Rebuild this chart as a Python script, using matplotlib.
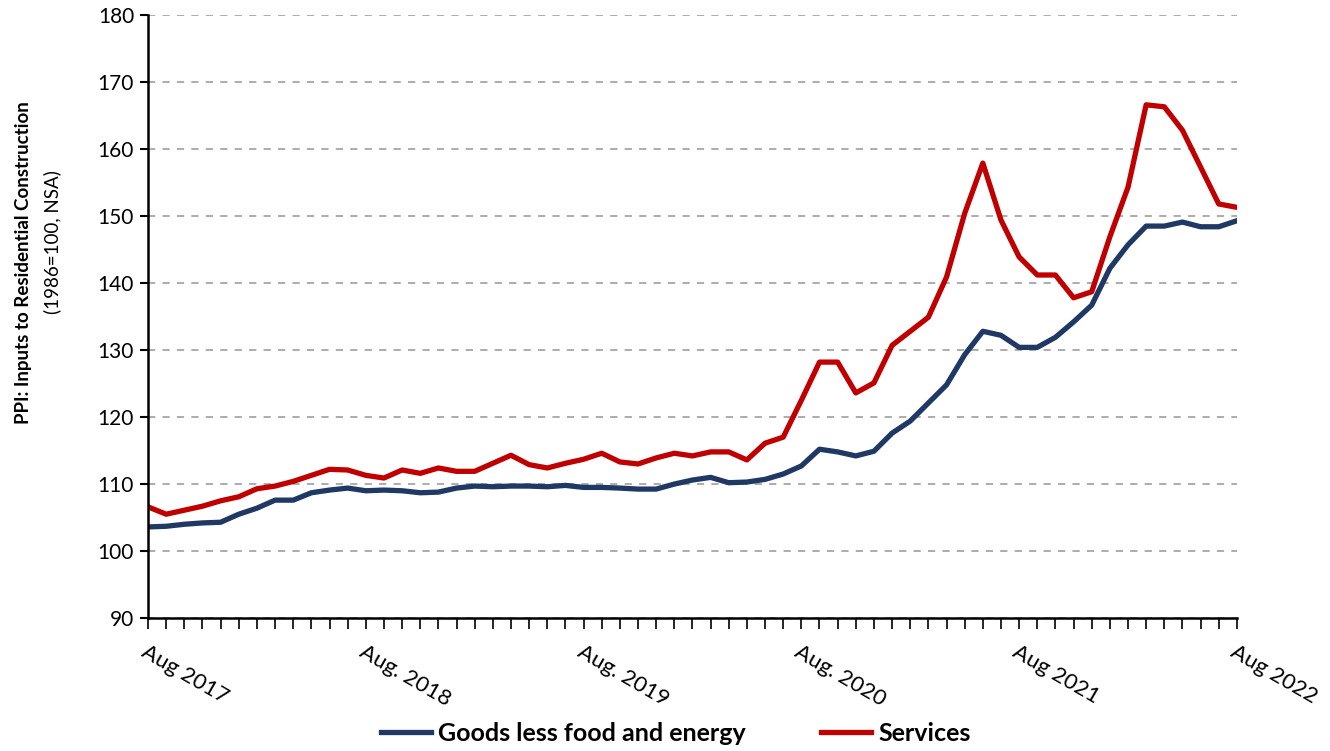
import numpy as np
import matplotlib
matplotlib.use("Agg")
import matplotlib.pyplot as plt
from matplotlib.ticker import MultipleLocator

plt.rcParams['font.family'] = ['Lato', 'DejaVu Sans']

# monthly index values, Aug 2017 .. Aug 2022
goods = [103.6, 103.7, 104.0, 104.2, 104.3, 105.5, 106.4, 107.6, 107.6, 108.7,
         109.1, 109.4, 109.0, 109.1, 109.0, 108.7, 108.8, 109.4, 109.7, 109.6,
         109.7, 109.7, 109.6, 109.8, 109.5, 109.5, 109.4, 109.25, 109.25, 110.0,
         110.6, 111.0, 110.2, 110.3, 110.7, 111.5, 112.7, 115.2, 114.8, 114.2,
         114.9, 117.6, 119.4, 122.1, 124.8, 129.3, 132.8, 132.2, 130.4, 130.4,
         131.9, 134.2, 136.7, 142.2, 145.7, 148.5, 148.5, 149.1, 148.4, 148.4,
         149.3]
services = [106.6, 105.5, 106.1, 106.7, 107.5, 108.1, 109.3, 109.7, 110.4, 111.3,
            112.2, 112.1, 111.3, 110.9, 112.1, 111.6, 112.4, 111.9, 111.9, 113.1,
            114.3, 112.9, 112.4, 113.1, 113.7, 114.6, 113.3, 113.0, 113.9, 114.6,
            114.2, 114.8, 114.8, 113.6, 116.1, 117.0, 122.5, 128.2, 128.2, 123.6,
            125.1, 130.7, 132.8, 134.9, 140.9, 150.4, 157.9, 149.4, 143.9, 141.2,
            141.2, 137.8, 138.7, 146.9, 154.3, 166.6, 166.3, 162.8, 157.3, 151.8,
            151.3]
tick_labels = ["Aug 2017", "Aug. 2018", "Aug. 2019", "Aug. 2020", "Aug 2021", "Aug 2022"]

months = np.arange(len(goods))

fig = plt.figure(figsize=(13.3, 7.51), dpi=100)
ax = fig.add_axes([0.1113, 0.177, 0.8187, 0.803])

ax.plot(months, goods, color='#1F3864', lw=3.8, label='Goods less food and energy')
ax.plot(months, services, color='#C00000', lw=3.8, label='Services')

ax.set_xlim(0, 60)
ax.set_ylim(90, 180)
ax.yaxis.set_major_locator(MultipleLocator(10))
ax.grid(axis='y', color='#A6A6A6', ls=(0, (4, 4)), lw=1.3)
ax.set_axisbelow(True)

ax.set_xticks(np.arange(0, 61, 12))
ax.set_xticklabels(tick_labels, rotation=-30, ha='left', va='top',
                   rotation_mode='anchor', fontsize=16)
ax.set_xticks(months, minor=True)
ax.tick_params(axis='x', which='both', direction='out', length=8, width=1.2,
               pad=9)
ax.tick_params(axis='y', direction='out', length=6, width=1.5, labelsize=15, pad=4)

for side in ('top', 'right'):
    ax.spines[side].set_visible(False)
for side in ('left', 'bottom'):
    ax.spines[side].set_linewidth(1.8)

fig.text(0.0175, 0.650, "PPI: Inputs to Residential Construction", rotation=90,
         ha='center', va='center', fontsize=13.5, fontweight='bold')
fig.text(0.039, 0.678, "(1986=100, NSA)", rotation=90, ha='center', va='center',
         fontsize=13.5)

fig.legend(loc='lower center', bbox_to_anchor=(0.508, -0.022), ncol=2, frameon=False,
           prop={'weight': 'bold', 'size': 18}, handlelength=2.0, handletextpad=0.3,
           columnspacing=3.0)

fig.savefig('out.png', dpi=100)
